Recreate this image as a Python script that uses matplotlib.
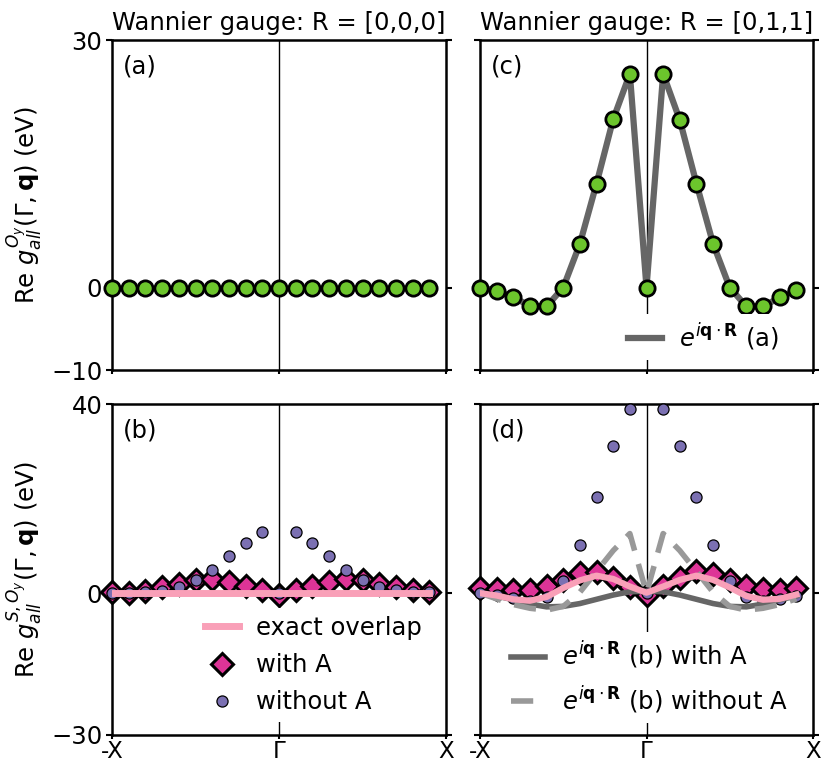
import numpy as np
import matplotlib
matplotlib.use("Agg")
import matplotlib.pyplot as plt

# q path from -X to X (20 points, X itself not included)
q = np.round(np.arange(-1.0, 0.95, 0.1), 2)

# (a) R = [0,0,0]
g_a = [0.0] * 20
# (c) R = [0,1,1]
g_c = [0.0, -0.4, -1.2, -2.2, -2.3, 0.0, 5.3, 12.6, 20.4, 25.9,
       0.0, 25.9, 20.3, 12.6, 5.3, 0.0, -2.3, -2.3, -1.2, -0.3]

# (b) R = [0,0,0]
b_exact = [0.0] * 20
b_with = [0.2, 0.1, 0.4, 1.2, 2.0, 2.8, 2.9, 2.4, 1.5, 0.6,
          -0.4, 0.6, 1.5, 2.4, 2.9, 2.8, 2.0, 1.2, 0.7, 0.3]
b_without = [0.0, 0.1, 0.2, 0.5, 1.2, 2.7, 4.9, 7.8, 10.6, 13.0,
             0.0, 13.0, 10.6, 7.8, 4.9, 2.7, 1.2, 0.6, 0.3, 0.2]

# (d) R = [0,1,1]
d_exact = [0.0, -0.5, -1.3, -1.6, -0.8, 1.1, 2.7, 3.7, 3.0, 1.4,
           0.1, 1.4, 2.8, 3.7, 2.8, 1.2, -0.6, -1.4, -1.2, -0.3]
d_with = [1.0, 0.9, 0.7, 0.7, 1.6, 2.8, 4.2, 4.5, 3.2, 1.4,
          -0.4, 1.5, 3.1, 4.6, 4.1, 2.8, 1.6, 0.9, 0.7, 1.0]
d_without = [0.0, -0.3, -1.0, -1.6, -0.8, 2.6, 10.2, 20.4, 31.1, 39.0,
             0.0, 39.0, 31.1, 20.4, 10.2, 2.6, -0.8, -1.6, -1.2, -0.5]
d_phase_with = [0.0, -0.6, -1.4, -2.3, -2.9, -2.8, -2.2, -1.3, -0.4, 0.3,
                0.4, 0.3, -0.4, -1.3, -2.2, -2.8, -2.9, -2.3, -1.4, -0.6]
d_phase_without = [0.0, -1.2, -2.4, -3.2, -3.6, -2.8, 0.2, 4.6, 9.0, 12.6,
                   0.0, 12.6, 9.0, 4.6, 0.2, -2.8, -3.6, -3.2, -2.4, -1.2]

xticks = [-1, 0, 1]
xlabels = ['-X', r'$\Gamma$', 'X']

green = '#6cc52c'
magenta = '#dd3497'
purple = '#7b70b2'
pink = '#f9a0b8'
dark = '#666666'
light = '#999999'

FS = 17.5
plt.rcParams['font.size'] = FS
plt.rcParams['mathtext.fontset'] = 'dejavusans'

fig = plt.figure(figsize=(8.22, 7.66), dpi=100)
W, H = 822.0, 766.0
ax_a = fig.add_axes([112/W, 1-370/H, 334/W, 330/H])
ax_c = fig.add_axes([480/W, 1-370/H, 333/W, 330/H])
ax_b = fig.add_axes([112/W, 1-735/H, 334/W, 331/H])
ax_d = fig.add_axes([480/W, 1-735/H, 333/W, 331/H])

for ax in [ax_a, ax_b, ax_c, ax_d]:
    ax.set_xlim(-1, 1)
    ax.axvline(0, color='k', lw=1.0, zorder=1)
    ax.set_xticks(xticks)
    for s in ax.spines.values():
        s.set_linewidth(1.8)
    ax.tick_params(direction='out', length=4, width=1.5, right=True, pad=3)
    ax.tick_params(axis='x', length=3, pad=0.5, labelsize=16.5)

for ax in [ax_a, ax_c]:
    ax.set_ylim(-10, 30)
    ax.set_yticks([-10, 0, 30])
    ax.set_xticklabels([])
for ax in [ax_b, ax_d]:
    ax.set_ylim(-30, 40)
    ax.set_yticks([-30, 0, 40])
    ax.set_xticklabels(xlabels)
for ax in [ax_c, ax_d]:
    ax.set_yticklabels([])

leg_kw = dict(loc='lower right', frameon=True, framealpha=1, edgecolor='none',
              handlelength=1.4, handletextpad=0.7, labelspacing=0.55,
              borderaxespad=0.0, borderpad=0.3)

# (a)
ax_a.plot(q, g_a, 'o', color=green, mec='k', ms=11, mew=2, zorder=5, clip_on=False)
ax_a.set_ylabel(r'Re $g_{all}^{O_y}(\Gamma,\mathbf{q})$ (eV)', labelpad=4)
ax_a.set_title('Wannier gauge: R = [0,0,0]', fontsize=FS, pad=7)

# (c)
ax_c.plot(q, g_c, '-', color=dark, lw=4.5, zorder=3,
          label=r'$e^{i\mathbf{q}\cdot\mathbf{R}}$ (a)')
ax_c.plot(q, g_c, 'o', color=green, mec='k', ms=11, mew=2, zorder=5, clip_on=False)
ax_c.set_title('Wannier gauge: R = [0,1,1]', fontsize=FS, pad=7)
ax_c.legend(bbox_to_anchor=(0.92, 0.03), **leg_kw)

# (b)
ax_b.plot(q, b_with, 'D', color=magenta, mec='k', ms=11, mew=2.2, zorder=3,
          label='with A', clip_on=False)
ax_b.plot(q, b_without, 'o', color=purple, mec='k', ms=8, mew=0.9, zorder=4,
          label='without A', clip_on=False)
ax_b.plot(q, b_exact, '-', color=pink, lw=5, zorder=5, label='exact overlap')
ax_b.set_ylabel(r'Re $g_{all}^{S,O_y}(\Gamma,\mathbf{q})$ (eV)', labelpad=4)
h, l = ax_b.get_legend_handles_labels()
ax_b.legend([h[2], h[0], h[1]], [l[2], l[0], l[1]],
            bbox_to_anchor=(0.95, 0.04), **leg_kw)

# (d)
ax_d.plot(q, d_with, 'D', color=magenta, mec='k', ms=11, mew=2.2, zorder=3, clip_on=False)
ax_d.plot(q, d_without, 'o', color=purple, mec='k', ms=8, mew=0.9, zorder=4, clip_on=False)
ax_d.plot(q, d_phase_with, '-', color=dark, lw=4, zorder=4,
          label=r'$e^{i\mathbf{q}\cdot\mathbf{R}}$ (b) with A')
ax_d.plot(q, d_phase_without, '--', color=light, lw=4, zorder=4, dashes=(4, 2.5),
          label=r'$e^{i\mathbf{q}\cdot\mathbf{R}}$ (b) without A')
ax_d.plot(q, d_exact, '-', color=pink, lw=4.5, zorder=5)
ax_d.legend(bbox_to_anchor=(0.945, 0.035), **leg_kw)

for ax, lab in zip([ax_a, ax_b, ax_c, ax_d], ['(a)', '(b)', '(c)', '(d)']):
    ax.text(0.033, 0.955, lab, transform=ax.transAxes, ha='left', va='top', fontsize=FS)

fig.savefig('out.png', dpi=100)
